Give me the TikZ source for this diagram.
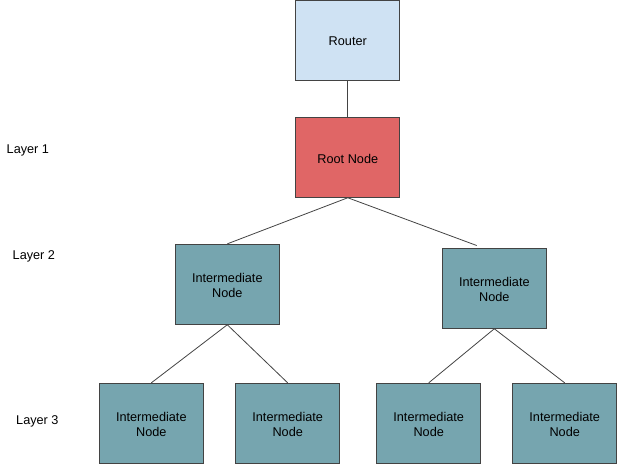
\documentclass[tikz,border=0pt]{standalone}
\usepackage{fontspec}
\setmainfont{Liberation Sans}
\definecolor{routerc}{HTML}{CFE2F3}
\definecolor{rootc}{HTML}{E06666}
\definecolor{interc}{HTML}{76A5AF}
\definecolor{edgec}{HTML}{434343}
\begin{document}
\begin{tikzpicture}[x=1pt,y=-1pt,
  box/.style={draw=edgec,line width=0.9pt,minimum width=104pt,minimum height=80pt,inner sep=0pt,align=center,font=\fontsize{12.7}{15.5}\selectfont},
  txt/.style={inner sep=0pt,align=center,font=\fontsize{12.7}{15.5}\selectfont},
  link/.style={draw=edgec,line width=0.8pt},
  layerlbl/.style={font=\fontsize{12.7}{15.5}\selectfont,anchor=west,inner sep=0pt}]
\useasboundingbox (0,0) rectangle (624,464);
\node[box,fill=routerc] (router) at (347.8,40.2) {};
\node[box,fill=rootc] (root) at (347.8,157.3) {};
\node[box,fill=interc] (l2a) at (227.3,284.3) {};
\node[box,fill=interc] (l2b) at (494.3,288.3) {};
\node[box,fill=interc] (l3a) at (151.3,423.3) {};
\node[box,fill=interc] (l3b) at (287.7,423.3) {};
\node[box,fill=interc] (l3c) at (428.7,423.3) {};
\node[box,fill=interc] (l3d) at (564.7,423.3) {};
\node[txt] (trouter) at ([yshift=-1.2pt]router.center) {Router};
\node[txt] (troot) at ([yshift=-1.2pt]root.center) {Root Node};
\node[txt] (tl2a) at ([yshift=-1pt]l2a.center) {Intermediate\\Node};
\node[txt] (tl2b) at ([yshift=-1pt]l2b.center) {Intermediate\\Node};
\node[txt] (tl3a) at ([yshift=-1pt]l3a.center) {Intermediate\\Node};
\node[txt] (tl3b) at ([yshift=-1pt]l3b.center) {Intermediate\\Node};
\node[txt] (tl3c) at ([yshift=-1pt]l3c.center) {Intermediate\\Node};
\node[txt] (tl3d) at ([yshift=-1pt]l3d.center) {Intermediate\\Node};
\coordinate (l2bin) at (476.7,245.5);
\node[layerlbl] (lay1) at (6.5,150.8) {Layer 1};
\node[layerlbl] (lay2) at (12.5,256.5) {Layer 2};
\node[layerlbl] (lay3) at (16,421) {Layer 3};
\draw[link] (router.south) -- (root.north);
\draw[link] (root.south) -- (l2a.north);
\draw[link] (root.south) -- (l2bin);
\draw[link] (l2a.south) -- (l3a.north);
\draw[link] (l2a.south) -- (l3b.north);
\draw[link] (l2b.south) -- (l3c.north);
\draw[link] (l2b.south) -- (l3d.north);
\end{tikzpicture}
\end{document}
